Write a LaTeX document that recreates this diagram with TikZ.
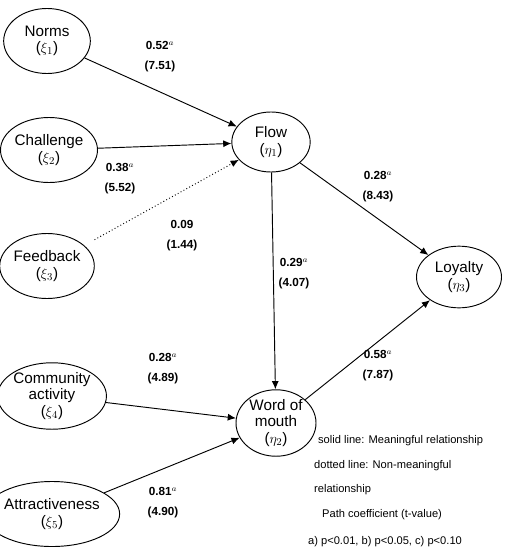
\documentclass[tikz,border=0pt]{standalone}
\usepackage{fontspec}
\setmainfont{Liberation Sans}
\usetikzlibrary{shapes.geometric,arrows.meta}
\tikzset{
    latent/.style={draw, thick, ellipse, inner sep=0pt, align=center,
        minimum width=2.6cm, minimum height=1.95cm, font=\fontsize{13}{14}\selectfont},
    path/.style={thick, -{Latex[length=7pt,width=6pt]}},
    weak/.style={thick, dotted, -{Latex[length=7pt,width=6pt]}},
    coef/.style={font=\bfseries, align=center},
    note/.style={anchor=west, font=\fontsize{9.5}{11}\selectfont}
}
\begin{document}
\begin{tikzpicture}[x=0.03cm, y=-0.03cm]
    \useasboundingbox (0,0) rectangle (525,557);
    % exogenous
    \node[latent] (norms) at (47,41) {Norms\\($\xi_1$)};
    \node[latent] (chal) at (49,150) {Challenge\\($\xi_2$)};
    \node[latent] (feed) at (47,266) {Feedback\\($\xi_3$)};
    \node[latent] (comm) at (52,396) {Community\\activity\\($\xi_4$)};
    \node[latent] (attr) at (52,514) {Attractiveness\\($\xi_5$)};

    % endogenous
    \node[latent, minimum width=2.35cm, minimum height=1.8cm] (flow) at (271,142) {Flow\\($\eta_1$)};
    \node[latent, minimum width=2.4cm, minimum height=1.8cm] (wom) at (276,423) {Word of\\mouth\\($\eta_2$)};
    \node[latent, minimum width=2.55cm, minimum height=1.85cm] (loyal) at (459,277) {Loyalty\\($\eta_3$)};

    % paths
    \draw[path] (norms) -- (flow);
    \draw[path] (chal) -- (flow);
    \draw[weak, shorten <=10pt] (feed) -- (flow);
    \draw[path] (flow) -- (loyal);
    \draw[path] (flow) -- (wom);
    \draw[path] (wom) -- (loyal);
    \draw[path] (comm) -- (wom);
    \draw[path] (attr) -- (wom);

    % coefficients
    \node[coef] (c1) at (160,57) {0.52$^{a}$\\[5pt](7.51)};
    \node[coef] (c2) at (120,179) {0.38$^{a}$\\[5pt](5.52)};
    \node[coef] (c3) at (182,236) {0.09\\[5pt](1.44)};
    \node[coef] (c4) at (378,187) {0.28$^{a}$\\[5pt](8.43)};
    \node[coef] (c5) at (294,274) {0.29$^{a}$\\[5pt](4.07)};
    \node[coef] (c6) at (378,366) {0.58$^{a}$\\[5pt](7.87)};
    \node[coef] (c7) at (163,369) {0.28$^{a}$\\[5pt](4.89)};
    \node[coef] (c8) at (163,503) {0.81$^{a}$\\[5pt](4.90)};

    % legend
    \node[note] (n1) at (314,441) {solid line: Meaningful relationship};
    \node[note] (n2) at (310,466) {dotted line: Non-meaningful};
    \node[note] (n3) at (310,490) {relationship};
    \node[note] (n4) at (318,515) {Path coefficient (t-value)};
    \node[note] (n5) at (304,542) {a) p<0.01, b) p<0.05, c) p<0.10};
\end{tikzpicture}
\end{document}
